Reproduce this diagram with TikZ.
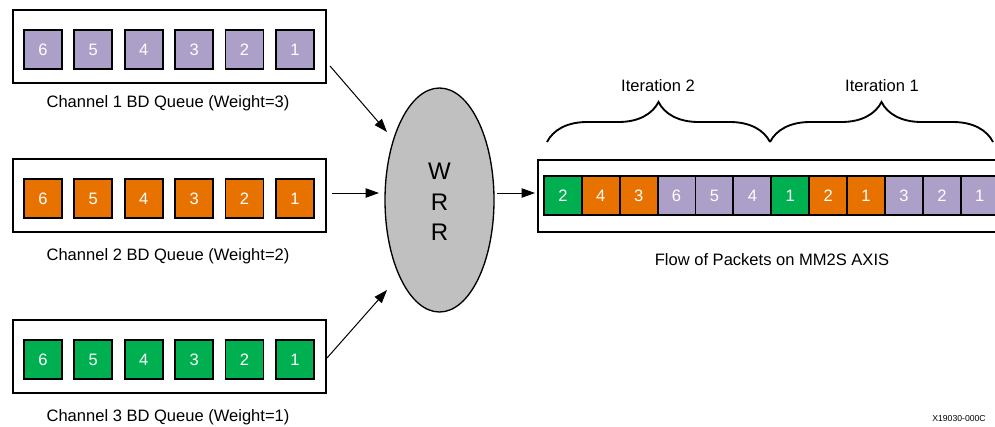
\documentclass[tikz,border=0pt]{standalone}
\usepackage{fontspec}
\setmainfont{Liberation Sans}
\usetikzlibrary{shapes.geometric,decorations.pathreplacing,arrows.meta}
\definecolor{qpurple}{RGB}{173,160,200}
\definecolor{qorange}{RGB}{232,114,0}
\definecolor{qgreen}{RGB}{0,176,80}
\definecolor{qgray}{RGB}{192,192,192}
\begin{document}
\begin{tikzpicture}[x=0.75pt,y=-0.75pt,
  qbox/.style={draw,line width=1.4pt,anchor=north west,inner sep=0pt},
  pkt/.style={draw,line width=1.4pt,anchor=north west,inner sep=0pt,minimum width=28.5pt,minimum height=29.25pt,text=white,font=\fontsize{12.4pt}{14pt}\selectfont},
  opkt/.style={pkt,minimum width=28.4pt},
  lbl/.style={font=\fontsize{12.4pt}{14pt}\selectfont,inner sep=0pt},
  arr/.style={line width=0.75pt,-{Triangle[length=10pt,width=7pt]}},
  brc/.style={decorate,decoration={brace,amplitude=30pt},line width=1.4pt}]
\useasboundingbox (0,0) rectangle (995,426);
\clip (0,0) rectangle (995,426);
% channel boxes
\node[qbox,minimum width=234.75pt,minimum height=54.75pt] (box1) at (12,9) {};
\node[qbox,minimum width=234.75pt,minimum height=54.75pt] (box2) at (12,158) {};
\node[qbox,minimum width=234.75pt,minimum height=54.75pt] (box3) at (12,319) {};
\foreach \i/\n in {0/6,1/5,2/4,3/3,4/2,5/1}{
  \node[pkt,fill=qpurple] (c1p\n) at ({23+50.4*\i},29) {\n};
  \node[pkt,fill=qorange] (c2p\n) at ({23+50.4*\i},178) {\n};
  \node[pkt,fill=qgreen] (c3p\n) at ({23+50.4*\i},339) {\n};
}
\node[lbl] (lab1) at (168,103) {Channel 1 BD Queue (Weight=3)};
\node[lbl] (lab2) at (168,256) {Channel 2 BD Queue (Weight=2)};
\node[lbl] (lab3) at (168,417) {Channel 3 BD Queue (Weight=1)};
% WRR ellipse
\node[ellipse,draw,line width=1pt,fill=qgray,minimum width=81.75pt,minimum height=168pt,inner sep=0pt] (wrr) at (439.5,200) {};
\node[align=center,inner sep=0pt,font=\fontsize{18pt}{23pt}\selectfont] (wrrtxt) at (439.5,202) {W\\R\\R};
% arrows
\coordinate (s1) at (330,66);  \coordinate (t1) at (387,132);
\coordinate (s2) at (332,193); \coordinate (t2) at (379,193);
\coordinate (s3) at (327,358); \coordinate (t3) at (387,290);
\coordinate (so) at (497,193); \coordinate (to) at (535,193);
\draw[arr] (s1) -- (t1);
\draw[arr] (s2) -- (t2);
\draw[arr] (s3) -- (t3);
\draw[arr] (so) -- (to);
% output queue
\node[qbox,minimum width=360pt,minimum height=54pt] (obox) at (537,159) {};
\foreach \i/\c/\n in {0/qgreen/2,1/qorange/4,2/qorange/3,3/qpurple/6,4/qpurple/5,5/qpurple/4,
                      6/qgreen/1,7/qorange/2,8/qorange/1,9/qpurple/3,10/qpurple/2,11/qpurple/1}{
  \node[opkt,fill=\c] (op\i) at ({543+37.9*\i},175) {\n};
}
\node[lbl] (flow) at (772,260) {Flow of Packets on MM2S AXIS};
% braces
\coordinate (b2l) at (547,142); \coordinate (b2r) at (770,142);
\coordinate (b1l) at (770,142); \coordinate (b1r) at (993,142);
\draw[brc] (b2l) -- (b2r);
\draw[brc] (b1l) -- (b1r);
\node[lbl] (it2) at (658,86) {Iteration 2};
\node[lbl] (it1) at (882,86) {Iteration 1};
\node[anchor=north west,inner sep=0pt,font=\fontsize{6.5pt}{7.5pt}\selectfont] (xid) at (932,415) {X19030-000C};
\end{tikzpicture}
\end{document}
